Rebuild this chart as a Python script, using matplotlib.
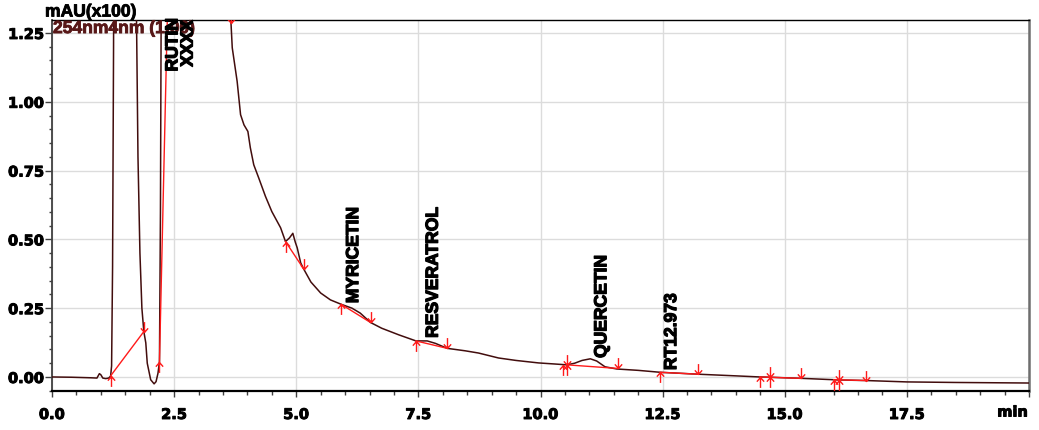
import matplotlib

matplotlib.use("Agg")
import matplotlib.pyplot as plt
import matplotlib.patheffects as pe
from matplotlib.path import Path
from matplotlib.ticker import MultipleLocator, FuncFormatter

# chromatogram trace at 254 nm, values in mAU(x100)
trace_time = [
    0.00, 0.40, 0.80, 0.92, 0.97, 1.00, 1.04, 1.10, 1.16, 1.20, 1.22, 1.24,
    1.26, 1.28, 1.40, 1.60, 1.70, 1.73, 1.76, 1.80, 1.84, 1.88, 1.92, 1.95,
    2.02, 2.09, 2.13, 2.17, 2.20, 2.22, 2.24, 2.30, 3.00, 3.60, 3.66, 3.69,
    3.79, 3.86, 3.93, 4.01, 4.06, 4.13, 4.23, 4.37, 4.50, 4.68, 4.78, 4.86,
    4.93, 4.98, 5.02, 5.09, 5.15, 5.30, 5.50, 5.70, 5.92, 6.14, 6.31, 6.52,
    6.75, 7.10, 7.45, 7.68, 7.85, 8.09, 8.46, 8.73, 9.14, 9.50, 9.96, 10.30,
    10.54, 10.70, 10.85, 11.02, 11.15, 11.32, 11.56, 12.00, 12.45, 13.23,
    14.00, 14.49, 14.70, 15.34, 16.00, 16.12, 16.67, 17.50, 18.50, 20.00,
]
trace_mau = [
    0.000, -0.001, -0.003, -0.004, 0.012, 0.008, -0.004, -0.006, -0.004,
    0.003, 0.040, 0.400, 1.200, 2.500, 6.000, 6.000, 2.500, 1.300, 0.800,
    0.450, 0.250, 0.165, 0.124, 0.050, -0.010, -0.025, -0.017, 0.014, 0.056,
    0.600, 1.600, 5.000, 12.00, 3.000, 1.300, 1.196, 1.074, 0.953, 0.916,
    0.892, 0.833, 0.771, 0.724, 0.656, 0.601, 0.542, 0.492, 0.505, 0.522,
    0.490, 0.469, 0.415, 0.393, 0.345, 0.305, 0.280, 0.264, 0.250, 0.232,
    0.198, 0.177, 0.153, 0.131, 0.131, 0.122, 0.104, 0.095, 0.087, 0.069,
    0.060, 0.051, 0.047, 0.044, 0.050, 0.060, 0.066, 0.058, 0.037, 0.029,
    0.024, 0.017, 0.010, 0.004, 0.000, -0.001, -0.005, -0.010, -0.011,
    -0.013, -0.018, -0.020, -0.022,
]

# integration marks (peak start / end / both)
mark_kind = [
    "up", "down", "up", "down", "up", "down", "up", "down", "up", "down",
    "up", "star", "down", "up", "down", "up", "star", "down", "up", "star",
    "down",
]
mark_time = [
    1.20, 1.88, 2.20, 3.66, 4.78, 5.15, 5.92, 6.52, 7.45, 8.09,
    10.47, 10.54, 11.58, 12.45, 13.23, 14.49, 14.70, 15.34, 16.00, 16.12,
    16.67,
]
mark_level = [
    0.004, 0.165, 0.056, 1.285, 0.492, 0.393, 0.264, 0.198, 0.131, 0.104,
    0.045, 0.044, 0.031, 0.017, 0.010, 0.000, -0.001, -0.005, -0.010, -0.011,
    -0.013,
]

# integration baselines
base_start_t = [1.20, 2.20, 4.78, 5.92, 7.45, 10.54, 12.45, 14.49, 16.00]
base_start_y = [0.004, 0.056, 0.492, 0.264, 0.131, 0.044, 0.017, 0.000, -0.010]
base_end_t = [1.88, 3.66, 5.15, 6.52, 8.09, 11.58, 13.23, 15.34, 16.67]
base_end_y = [0.165, 11.40, 0.393, 0.198, 0.104, 0.031, 0.010, -0.005, -0.013]

peak_names = ["RUTIN", "XXXX", "MYRICETIN", "RESVERATROL", "QUERCETIN", "RT12.973"]
peak_label_t = [2.51, 2.82, 6.21, 7.84, 11.29, 12.72]
peak_label_y = [1.110, 1.127, 0.268, 0.142, 0.069, 0.025]

TRACE_COLOR = "#420d0d"
RED = "#ff1a1a"
HEAVY = [pe.withStroke(linewidth=0.9, foreground="black")]
HEAVY_TICK = [pe.withStroke(linewidth=0.7, foreground="black")]

_M, _L = Path.MOVETO, Path.LINETO
ARROW_UP = Path(
    [(0, -1), (0, 0), (-0.35, -0.4), (0, 0), (0.35, -0.4)],
    [_M, _L, _M, _L, _L],
)
ARROW_DOWN = Path(
    [(0, 1), (0, 0), (-0.35, 0.4), (0, 0), (0.35, 0.4)],
    [_M, _L, _M, _L, _L],
)
ARROW_BOTH = Path(
    [(0, -1), (0, 1), (-0.35, -0.4), (0, 0), (0.35, -0.4),
     (-0.35, 0.4), (0, 0), (0.35, 0.4)],
    [_M, _L, _M, _L, _L, _M, _L, _L],
)
MARKERS = {"up": ARROW_UP, "down": ARROW_DOWN, "star": ARROW_BOTH}

W, H = 1039, 430
fig = plt.figure(figsize=(W / 100, H / 100), dpi=100)
ax = fig.add_axes([52 / W, 39 / H, (1029 - 52) / W, (391 - 20) / H])

ax.plot(trace_time, trace_mau, color=TRACE_COLOR, linewidth=1.1, zorder=3)

for t0, y0, t1, y1 in zip(base_start_t, base_start_y, base_end_t, base_end_y):
    ax.plot([t0, t1], [y0, y1], color=RED, linewidth=1.0, zorder=4)

for kind, t, y in zip(mark_kind, mark_time, mark_level):
    ax.plot(
        t, y,
        marker=MARKERS[kind],
        markersize=15,
        markerfacecolor="none",
        markeredgecolor=RED,
        markeredgewidth=1.0,
        linestyle="None",
        zorder=5,
    )

for name, t, y in zip(peak_names, peak_label_t, peak_label_y):
    ax.text(
        t - 0.035, y, name,
        rotation=90, ha="center", va="bottom",
        fontsize=12.6, fontweight="bold", family="Liberation Sans",
        color="black", zorder=7, path_effects=HEAVY,
    )

ax.set_xlim(0, 20)
ax.set_ylim(-0.051, 1.297)
ax.xaxis.set_major_locator(MultipleLocator(2.5))
ax.xaxis.set_minor_locator(MultipleLocator(0.5))
ax.yaxis.set_major_locator(MultipleLocator(0.25))
ax.yaxis.set_minor_locator(MultipleLocator(0.05))
# the last x tick carries the unit instead of a number
ax.xaxis.set_major_formatter(FuncFormatter(lambda v, _: "" if v > 19 else f"{v:.1f}"))
ax.yaxis.set_major_formatter(FuncFormatter(lambda v, _: f"{v:.2f}"))

ax.grid(True, which="major", color="#dcdcdc", linewidth=1.0, zorder=0)
ax.set_axisbelow(True)

ax.tick_params(axis="x", which="major", length=4.5, width=1.0, pad=7,
               color="#404040", labelsize=10.5)
ax.tick_params(axis="x", which="minor", length=3, width=1.0, color="#404040")
ax.tick_params(axis="y", which="major", length=5, width=1.0, pad=0.5,
               color="#404040", labelsize=10.5)
ax.tick_params(axis="y", which="minor", length=2.5, width=1.0, color="#404040")
for lbl in ax.get_xticklabels() + ax.get_yticklabels():
    lbl.set_fontweight("bold")
    lbl.set_path_effects(HEAVY_TICK)

ax.spines["left"].set_color("#404040")
ax.spines["left"].set_linewidth(1.3)
ax.spines["bottom"].set_color("black")
ax.spines["bottom"].set_linewidth(1.6)
ax.spines["top"].set_color("black")
ax.spines["top"].set_linewidth(1.0)
ax.spines["right"].set_color("#6e6e6e")
ax.spines["right"].set_linewidth(1.8)

fig.text(45 / W, 1 - 12 / H, "mAU(x100)", ha="left", va="center",
         fontsize=12.6, fontweight="bold", family="Liberation Sans",
         path_effects=[pe.withStroke(linewidth=0.6, foreground="black")])
ax.text(0.001, 0.977, "254nm4nm (1.00)", transform=ax.transAxes,
        ha="left", va="center", fontsize=12.6, fontweight="bold",
        family="Liberation Sans", color="#581818", zorder=6,
        path_effects=[pe.withStroke(linewidth=0.6, foreground="#581818")])
fig.text(1028 / W, 1 - 412 / H, "min", ha="right", va="center",
         fontsize=10.5, fontweight="bold", path_effects=HEAVY_TICK)

fig.savefig("out.png", dpi=100)
